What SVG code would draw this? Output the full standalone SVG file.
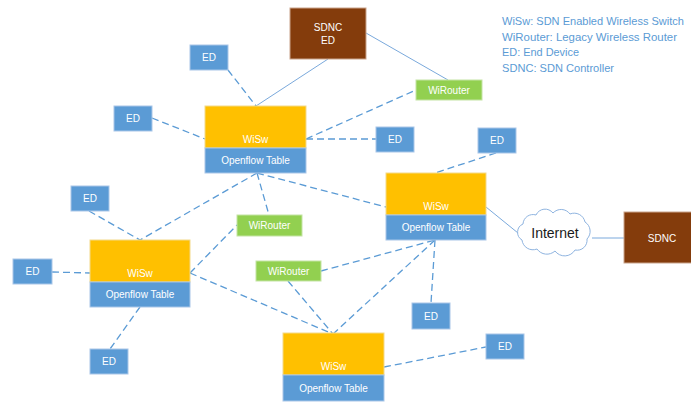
<svg xmlns="http://www.w3.org/2000/svg" width="691" height="402" viewBox="0 0 691 402">
  <style>
    .bg { fill: #ffffff; }
    .ed { fill: #5B9BD5; stroke: #a9c6e8; stroke-width: 1; }
    .sw { fill: #FFC000; stroke: #f3d98a; stroke-width: 1; }
    .tbl { fill: #5B9BD5; stroke: #a9c6e8; stroke-width: 1; }
    .rt { fill: #92D050; stroke: #c4e4a4; stroke-width: 1; }
    .ctl { fill: #843C0C; stroke: #c9a48c; stroke-width: 1; }
    .lbl { font-family: "Liberation Sans", Arial, sans-serif; font-size: 10px; fill: #ffffff; text-anchor: middle; dominant-baseline: central; }
    .legend { font-family: "Liberation Sans", Arial, sans-serif; font-size: 11px; fill: #5B9BD5; }
    .solid { stroke: #7aa9dc; stroke-width: 1; fill: none; }
    .dash { stroke: #5B9BD5; stroke-width: 1.3; stroke-dasharray: 7 4; fill: none; }
    .cloud { fill: #ffffff; stroke: #8fb4e0; stroke-width: 1; }
    .cloudtxt { font-family: "Liberation Sans", Arial, sans-serif; font-size: 14px; fill: #1a1a1a; text-anchor: middle; dominant-baseline: central; }
  </style>
  <rect class="bg" x="0" y="0" width="691" height="402"/>

  <!-- connectors -->
  <g id="connectors">
    <line class="solid" x1="328" y1="59" x2="256" y2="106"/>
    <line class="solid" x1="366" y1="33" x2="448" y2="80"/>
    <line class="solid" x1="486" y1="207" x2="518" y2="233"/>
    <line class="solid" x1="592" y1="238" x2="624" y2="238"/>

    <line class="dash" x1="228" y1="70" x2="256" y2="106"/>
    <line class="dash" x1="152" y1="118" x2="205" y2="139"/>
    <line class="dash" x1="306" y1="139" x2="376" y2="139"/>
    <line class="dash" x1="306" y1="139" x2="416" y2="90"/>
    <line class="dash" x1="496" y1="153" x2="435" y2="173"/>
    <line class="dash" x1="257" y1="173" x2="386" y2="207"/>
    <line class="dash" x1="257" y1="173" x2="269" y2="215"/>
    <line class="dash" x1="257" y1="173" x2="140" y2="240"/>
    <line class="dash" x1="89" y1="211" x2="140" y2="240"/>
    <line class="dash" x1="52" y1="272" x2="90" y2="273"/>
    <line class="dash" x1="190" y1="273" x2="237" y2="225"/>
    <line class="dash" x1="190" y1="273" x2="333" y2="334"/>
    <line class="dash" x1="140" y1="307" x2="110" y2="349"/>
    <line class="dash" x1="321" y1="271" x2="435" y2="240"/>
    <line class="dash" x1="288" y1="281" x2="333" y2="334"/>
    <line class="dash" x1="435" y1="240" x2="333" y2="334"/>
    <line class="dash" x1="435" y1="240" x2="431" y2="303"/>
    <line class="dash" x1="384" y1="367" x2="486" y2="347"/>
  </g>

  <!-- controllers -->
  <g id="sdnc-ed">
    <rect class="ctl" x="290" y="8" width="76" height="51"/>
    <text class="lbl" x="328" y="27">SDNC</text>
    <text class="lbl" x="328" y="40">ED</text>
  </g>
  <g id="sdnc">
    <rect class="ctl" x="624" y="212" width="76" height="51"/>
    <text class="lbl" x="662" y="238">SDNC</text>
  </g>

  <!-- internet cloud -->
  <g id="internet">
    <path class="cloud" d="M 522 240 A 9 9 0 0 1 523 224 A 10 10 0 0 1 536 215 A 10 10 0 0 1 553 213 A 11 11 0 0 1 570 214 A 11 11 0 0 1 585 222 A 11 11 0 0 1 587 239 A 10 10 0 0 1 575 250 A 12 12 0 0 1 555 251 A 12 12 0 0 1 537 249 A 11 11 0 0 1 522 240 Z"/>
    <text class="cloudtxt" x="555" y="233">Internet</text>
  </g>

  <!-- wireless switches -->
  <g id="wisw-top">
    <rect class="sw" x="205" y="106" width="101" height="42"/>
    <rect class="tbl" x="205" y="148" width="101" height="25"/>
    <text class="lbl" x="255.5" y="139">WiSw</text>
    <text class="lbl" x="255.5" y="160.5">Openflow Table</text>
  </g>
  <g id="wisw-right">
    <rect class="sw" x="386" y="173" width="100" height="42"/>
    <rect class="tbl" x="386" y="215" width="100" height="25"/>
    <text class="lbl" x="436" y="206">WiSw</text>
    <text class="lbl" x="436" y="227.5">Openflow Table</text>
  </g>
  <g id="wisw-left">
    <rect class="sw" x="90" y="240" width="100" height="42"/>
    <rect class="tbl" x="90" y="282" width="100" height="25"/>
    <text class="lbl" x="140" y="273">WiSw</text>
    <text class="lbl" x="140" y="294.5">Openflow Table</text>
  </g>
  <g id="wisw-bottom">
    <rect class="sw" x="283" y="333" width="101" height="42"/>
    <rect class="tbl" x="283" y="375" width="101" height="26"/>
    <text class="lbl" x="333.5" y="366">WiSw</text>
    <text class="lbl" x="333.5" y="388">Openflow Table</text>
  </g>

  <!-- legacy routers -->
  <g id="wirouter-top">
    <rect class="rt" x="416" y="80" width="66" height="20"/>
    <text class="lbl" x="449" y="90">WiRouter</text>
  </g>
  <g id="wirouter-mid">
    <rect class="rt" x="237" y="215" width="65" height="21"/>
    <text class="lbl" x="269.5" y="225.5">WiRouter</text>
  </g>
  <g id="wirouter-low">
    <rect class="rt" x="256" y="261" width="65" height="20"/>
    <text class="lbl" x="288.5" y="271">WiRouter</text>
  </g>

  <!-- end devices -->
  <g id="ed-1">
    <rect class="ed" x="190" y="45" width="38" height="25"/>
    <text class="lbl" x="209" y="57.5">ED</text>
  </g>
  <g id="ed-2">
    <rect class="ed" x="114" y="106" width="38" height="25"/>
    <text class="lbl" x="133" y="118.5">ED</text>
  </g>
  <g id="ed-3">
    <rect class="ed" x="376" y="127" width="38" height="25"/>
    <text class="lbl" x="395" y="139.5">ED</text>
  </g>
  <g id="ed-4">
    <rect class="ed" x="478" y="128" width="38" height="25"/>
    <text class="lbl" x="497" y="140.5">ED</text>
  </g>
  <g id="ed-5">
    <rect class="ed" x="71" y="186" width="38" height="25"/>
    <text class="lbl" x="90" y="198.5">ED</text>
  </g>
  <g id="ed-6">
    <rect class="ed" x="13" y="259" width="39" height="25"/>
    <text class="lbl" x="32.5" y="271.5">ED</text>
  </g>
  <g id="ed-7">
    <rect class="ed" x="412" y="303" width="38" height="26"/>
    <text class="lbl" x="431" y="316">ED</text>
  </g>
  <g id="ed-8">
    <rect class="ed" x="486" y="334" width="38" height="25"/>
    <text class="lbl" x="505" y="346.5">ED</text>
  </g>
  <g id="ed-9">
    <rect class="ed" x="90" y="349" width="38" height="25"/>
    <text class="lbl" x="109" y="361.5">ED</text>
  </g>

  <!-- legend -->
  <g id="legend">
    <text class="legend" x="502" y="25" textLength="182" lengthAdjust="spacingAndGlyphs">WiSw: SDN Enabled Wireless Switch</text>
    <text class="legend" x="502" y="40.5" textLength="175" lengthAdjust="spacingAndGlyphs">WiRouter: Legacy Wireless Router</text>
    <text class="legend" x="502" y="56" textLength="77" lengthAdjust="spacingAndGlyphs">ED: End Device</text>
    <text class="legend" x="502" y="71.5" textLength="112" lengthAdjust="spacingAndGlyphs">SDNC: SDN Controller</text>
  </g>
</svg>
